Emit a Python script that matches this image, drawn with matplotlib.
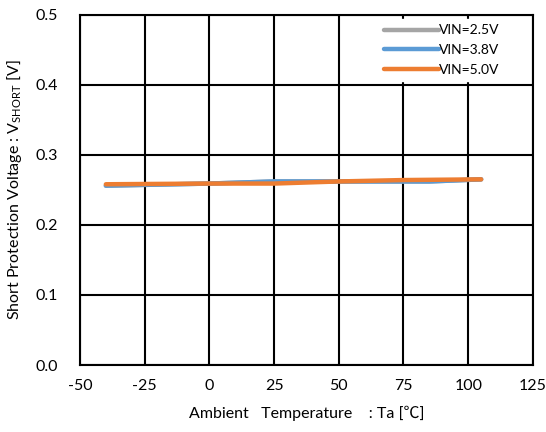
import matplotlib
matplotlib.use("Agg")
import matplotlib.pyplot as plt

plt.rcParams['font.family'] = ['Lato', 'Noto Sans CJK JP', 'DejaVu Sans']
plt.rcParams['mathtext.fontset'] = 'custom'
plt.rcParams['mathtext.rm'] = 'Lato'

temps_25 = [-40, 0, 25, 50, 85, 105]
vin_25 = [0.256, 0.259, 0.262, 0.262, 0.262, 0.265]
temps_38 = [-40, 0, 25, 50, 85, 105]
vin_38 = [0.256, 0.259, 0.262, 0.262, 0.262, 0.265]
temps_50 = [-40, 0, 25, 50, 75, 105]
vin_50 = [0.258, 0.259, 0.259, 0.262, 0.264, 0.265]
xticks = [-50, -25, 0, 25, 50, 75, 100, 125]
yticks = [0.0, 0.1, 0.2, 0.3, 0.4, 0.5]

fig = plt.figure(figsize=(5.46, 4.32), dpi=100)
ax = fig.add_axes([0.1465, 0.155, 0.8295, 0.811])

ax.plot(temps_25, vin_25, color='#a5a5a5', lw=3.2, label='VIN=2.5V', solid_capstyle='round')
ax.plot(temps_38, vin_38, color='#5b9bd5', lw=3.2, label='VIN=3.8V', solid_capstyle='round')
ax.plot(temps_50, vin_50, color='#ed7d31', lw=3.2, label='VIN=5.0V', solid_capstyle='round')

ax.set_xlim(-50, 125)
ax.set_ylim(0, 0.5)
ax.set_xticks(xticks)
ax.set_yticks(yticks)
ax.set_xticklabels([str(t) for t in xticks])
ax.set_yticklabels([f"{t:.1f}" for t in yticks])
ax.grid(True, color='black', lw=1.5)
ax.set_axisbelow(True)
for s in ax.spines.values():
    s.set_color('black')
    s.set_linewidth(1.5)
ax.tick_params(length=0, labelsize=11.5, pad=16)
ax.tick_params(axis='x', pad=10)

ax.set_xlabel('Ambient   Temperature    : Ta [℃]', fontsize=11.5, labelpad=9)
ax.set_ylabel(r'Short Protection Voltage : V$_{\mathrm{SHORT}}$ [V]', fontsize=11.5, labelpad=8)

leg = ax.legend(loc='upper right', bbox_to_anchor=(0.948, 1.0), frameon=True, fontsize=10,
                handlelength=4.0, handletextpad=0.0, labelspacing=0.55, borderaxespad=0.3,
                fancybox=False, edgecolor='white', framealpha=1)

fig.savefig('out.png', dpi=100)
